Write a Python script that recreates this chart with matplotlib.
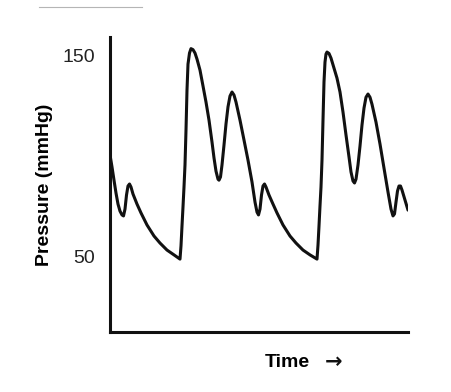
import matplotlib
matplotlib.use("Agg")
import matplotlib.pyplot as plt
from matplotlib.lines import Line2D

# arterial pressure trace (time in ms, pressure in mmHg)
t_ms = [0, 2.5, 10, 20, 30, 40, 50, 60, 67.5, 75, 82.5, 90, 97.5, 105, 115, 135,
        155, 185, 220, 250, 285, 320, 350,
        355, 360, 365, 370, 375, 380, 385, 390, 397.5, 405, 415, 425, 435, 450,
        465, 480, 495, 510, 520, 530, 540, 545, 552.5, 560, 570, 580, 590, 600,
        610, 620, 630, 650, 670, 690, 710, 725, 735, 742.5, 750, 757.5, 765,
        772.5, 780, 795, 815, 835, 865, 900, 930, 965, 1000, 1035,
        1040, 1045, 1050, 1055, 1060, 1065, 1070, 1075, 1080, 1085, 1095, 1105,
        1120, 1135, 1150, 1165, 1180, 1195, 1205, 1215, 1222.5, 1230, 1240,
        1250, 1260, 1270, 1280, 1290, 1300, 1310, 1330, 1350, 1370, 1390, 1405,
        1415, 1422.5, 1430, 1437.5, 1445, 1452.5, 1460, 1475, 1490]
p_mmhg = [100.4, 99.2, 94.7, 88.1, 81.7, 76.2, 72.7, 70.8, 70.3, 73.7, 80.7, 85.2,
          86.2, 84.7, 81.2, 76.2, 71.8, 65.8, 60.3, 56.8, 53.3, 50.9, 48.8,
          55.4, 65.3, 74.8, 84.7, 95.7, 113.0, 133.0, 145.9, 151.4, 153.6, 153.1,
          151.4, 148.4, 142.9, 135.0, 127.0, 118.0, 107.1, 99.2, 92.6, 88.6, 88.1,
          89.7, 95.7, 105.6, 116.1, 124.6, 130.0, 132.0, 130.5, 127.0, 118.0,
          108.1, 98.1, 87.2, 77.2, 72.2, 70.8, 73.7, 80.7, 85.2, 86.2, 84.7,
          80.7, 76.2, 71.8, 65.8, 60.3, 56.8, 53.3, 50.9, 48.8,
          55.8, 65.3, 75.3, 84.7, 98.1, 118.0, 137.0, 146.9, 150.9, 151.9, 151.2,
          148.9, 143.9, 138.9, 132.0, 122.0, 110.6, 99.7, 92.2, 87.7, 86.7, 88.6,
          95.7, 105.1, 115.6, 124.0, 129.4, 131.0, 129.4, 125.9, 117.0, 106.1,
          94.1, 82.2, 73.7, 70.3, 71.3, 77.2, 82.7, 85.2, 85.2, 83.2, 78.2, 73.2]

yticks = [50, 150]
ytick_labels = ["50", "150"]

fig = plt.figure(figsize=(4.52, 3.92), dpi=100)
ax = fig.add_axes([110/452, 60/392, 298/452, 295/392])

ax.plot(t_ms, p_mmhg, color="#111111", lw=2.2, solid_capstyle="round")

ax.set_xlim(0, 1490)
ax.set_ylim(12.5, 159.4)
ax.set_xticks([])
ax.set_yticks(yticks)
ax.set_yticklabels(ytick_labels, family=["Liberation Sans Narrow", "Liberation Sans", "DejaVu Sans"],
                   fontsize=14, color="#222222")
ax.tick_params(axis="y", length=0, pad=10.5)

for side in ["top", "right"]:
    ax.spines[side].set_visible(False)
for side in ["left", "bottom"]:
    ax.spines[side].set_linewidth(2.2)
    ax.spines[side].set_color("#111111")

ax.set_ylabel("Pressure (mmHg)", fontsize=14, fontweight="bold",
              family=["Liberation Sans", "DejaVu Sans"])
ax.yaxis.set_label_coords(-0.19, 0.5)

# x label: word and a heavier arrow next to it
ax.set_xlabel("Time", fontsize=14, fontweight="bold",
              family=["Liberation Sans", "DejaVu Sans"])
ax.xaxis.set_label_coords(0.595, -0.075)
ax.text(0.75, -0.102, "\u2192", transform=ax.transAxes, ha="center", va="center",
        fontsize=15, fontweight="bold", family="DejaVu Sans", color="#111111")

# faint rule left at the top of the original picture
fig.add_artist(Line2D([39/452, 142/452], [1 - 6.5/392, 1 - 6.5/392],
                      transform=fig.transFigure, color="#b5b5b5", lw=0.8))

fig.savefig("out.png", dpi=100)
